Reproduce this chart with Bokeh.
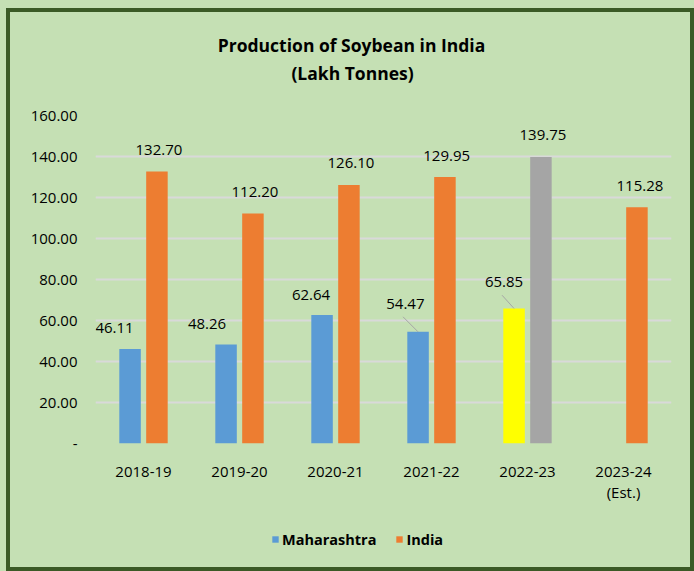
import numpy as np
from bokeh.plotting import figure
from bokeh.layouts import column
from bokeh.models import (ColumnDataSource, Range1d, FixedTicker, Label, Legend, LegendItem)
from bokeh.core.properties import value
from bokeh.embed import file_html
from bokeh.resources import INLINE

# ---------------- data ----------------
years = ["2018-19", "2019-20", "2020-21", "2021-22", "2022-23", "2023-24\n(Est.)"]
maharashtra = [46.11, 48.26, 62.64, 54.47, 65.85, None]
india = [132.70, 112.20, 126.10, 129.95, 139.75, 115.28]
maharashtra_labels = ["46.11", "48.26", "62.64", "54.47", "65.85", ""]
india_labels = ["132.70", "112.20", "126.10", "129.95", "139.75", "115.28"]
y_ticks = [0, 20, 40, 60, 80, 100, 120, 140, 160]
y_tick_labels = ["-", "20.00", "40.00", "60.00", "80.00", "100.00", "120.00", "140.00", "160.00"]
title_lines = ["Production of Soybean in India", "(Lakh Tonnes)"]
series_names = ["Maharashtra", "India"]

# ---------------- styles ----------------
BG = "#c5e0b4"
BORDER = "#3b5a26"
series_colors = ["#5b9bd5", "#ed7d31"]
maha_colors = ["#5b9bd5", "#5b9bd5", "#5b9bd5", "#5b9bd5", "#ffff00", "#5b9bd5"]
india_colors = ["#ed7d31", "#ed7d31", "#ed7d31", "#ed7d31", "#a5a5a5", "#ed7d31"]
maha_dx = [-15.5, -19, -11, -12.7, -10, 0]
maha_dy = [-21, -21, -20, -27.7, -26.6, 0]
india_dx = [2, 2, 2, 1.7, 2, 3]
india_dy = [-21, -21, -22, -21, -22, -21]
leader_idx = [3, 4]
leader_dx = [-15, -12]
leader_dy = [-15, -13.3]
FONT = "Open Sans"

W = 694
H_TITLE, H_MAIN, H_LEG = 100, 415, 56
LEFT, RIGHT, TOP, BOTTOM = 95, 23, 15, 72
FW = W - LEFT - RIGHT
FH = H_MAIN - TOP - BOTTOM
n = len(years)
px_x = FW / n
px_y = FH / (y_ticks[-1] - y_ticks[0])
OFF = 0.14
BW = 0.224


def blank(fig):
    fig.background_fill_alpha = 0
    fig.border_fill_alpha = 0
    fig.outline_line_color = None
    return fig


# ---------------- title strip (frame is aligned with the main chart's frame) ----------------
pt = blank(figure(width=W, height=H_TITLE, output_backend="svg", toolbar_location=None,
                  x_range=Range1d(LEFT, W - RIGHT), y_range=Range1d(H_TITLE, 0),
                  x_axis_type=None, y_axis_type=None, min_border=0))
for line, (tx, ty) in zip(title_lines, [(351, 44), (352, 72)]):
    pt.add_layout(Label(x=tx, y=ty, text=line, text_font=FONT, text_font_size="17.5px",
                        text_font_style="bold", text_align="center",
                        text_baseline="middle", text_color="#000000"))

# ---------------- main chart ----------------
xc = np.arange(n) + 0.5
valid = [i for i, v in enumerate(maharashtra) if v is not None]

src_m = ColumnDataSource(dict(
    x=[xc[i] - OFF for i in valid],
    y=[maharashtra[i] for i in valid],
    label=[maharashtra_labels[i] for i in valid],
    color=[maha_colors[i] for i in valid],
    dx=[maha_dx[i] for i in valid],
    dy=[maha_dy[i] for i in valid],
))
src_i = ColumnDataSource(dict(
    x=list(xc + OFF), y=india, label=india_labels, color=india_colors,
    dx=india_dx, dy=india_dy,
))

p = figure(width=W, height=H_MAIN, output_backend="svg", toolbar_location=None,
           x_range=Range1d(0, n), y_range=Range1d(y_ticks[0], y_ticks[-1]),
           min_border_left=LEFT, min_border_right=RIGHT,
           min_border_top=TOP, min_border_bottom=BOTTOM)
blank(p)

p.vbar(x="x", top="y", width=BW, bottom=0, source=src_m, fill_color="color", line_color=None)
p.vbar(x="x", top="y", width=BW, bottom=0, source=src_i, fill_color="color", line_color=None)

for src in (src_m, src_i):
    p.text(x="x", y="y", text="label", x_offset="dx", y_offset="dy", source=src,
           text_font=value(FONT), text_font_size="15px", text_color="#000000",
           text_align="center", text_baseline="middle")

# leader lines
lx1 = [xc[i] - OFF for i in leader_idx]
ly1 = [maharashtra[i] for i in leader_idx]
lx0 = [a + d / px_x for a, d in zip(lx1, leader_dx)]
ly0 = [b - d / px_y for b, d in zip(ly1, leader_dy)]
p.segment(x0=lx0, y0=ly0, x1=lx1, y1=ly1, line_color="#a6a6a6", line_width=1)

p.xaxis.ticker = FixedTicker(ticks=list(xc))
p.xaxis.major_label_overrides = {float(x): lab for x, lab in zip(xc, years)}
p.yaxis.ticker = FixedTicker(ticks=y_ticks)
p.yaxis.major_label_overrides = {t: lab for t, lab in zip(y_ticks, y_tick_labels)}
for ax in (p.xaxis[0], p.yaxis[0]):
    ax.axis_line_color = None
    ax.major_tick_line_color = None
    ax.minor_tick_line_color = None
    ax.major_tick_out = 0
    ax.major_tick_in = 0
    ax.major_label_text_font = FONT
    ax.major_label_text_font_size = "15px"
    ax.major_label_text_color = "#000000"
p.yaxis.major_label_standoff = 18
p.xaxis.major_label_standoff = 17
p.xaxis.major_label_text_line_height = 1.05

p.xgrid.grid_line_color = None
p.ygrid.grid_line_color = "#d9d9d9"
p.ygrid.grid_line_width = 2

# ---------------- legend strip ----------------
pl = blank(figure(width=W, height=H_LEG, output_backend="svg", toolbar_location=None,
                  x_range=Range1d(0, 1), y_range=Range1d(0, 1),
                  x_axis_type=None, y_axis_type=None, min_border=0))
# zero-size proxy glyphs that only supply the legend swatches
leg_r = [pl.vbar(x=[0], top=[0], bottom=0, width=0, fill_color=c, line_color=None)
         for c in series_colors]
legend = Legend(items=[LegendItem(label=nm, renderers=[r]) for nm, r in zip(series_names, leg_r)],
                location=(271 - LEFT, 22), orientation="horizontal",
                glyph_width=8, glyph_height=8, label_standoff=3, spacing=19,
                padding=0, margin=0, border_line_color=None, background_fill_alpha=0,
                label_text_font=FONT, label_text_font_style="bold",
                label_text_font_size="14.5px", label_height=20, label_text_color="#000000")
pl.add_layout(legend, "center")

root = column(pt, p, pl, spacing=0)
grad = "linear-gradient(%s,%s)" % (BORDER, BORDER)
root.styles = {
    "background-color": BG,
    "background-image": ", ".join([grad] * 4),
    "background-position": "6px 8px, 6px 8px, 6px 567px, 690px 8px",
    "background-size": "4px 563px, 688px 4px, 688px 4px, 4px 563px",
    "background-repeat": "no-repeat",
}

open("out.html", "w").write(file_html(root, INLINE))
